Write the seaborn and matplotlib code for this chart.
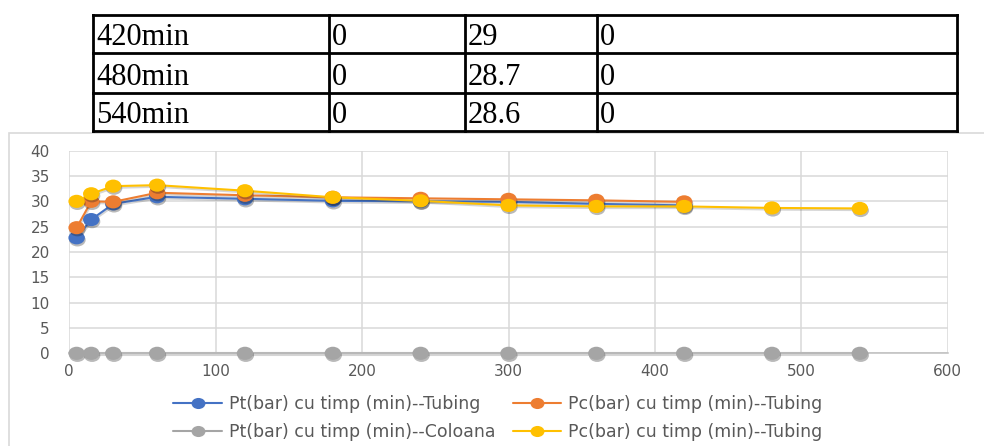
import numpy as np
import pandas as pd
import seaborn as sns
import matplotlib
matplotlib.use("Agg")
import matplotlib.pyplot as plt
from matplotlib.lines import Line2D
from matplotlib.patches import Rectangle
from matplotlib.path import Path
from matplotlib.transforms import Affine2D
import matplotlib.patheffects as pe

# ---- data ----
time_min = [5, 15, 30, 60, 120, 180, 240, 300, 360, 420, 480, 540]
pt_tubing = [22.8, 26.4, 29.5, 30.9, 30.5, 30.1, 30.0, 29.9, 29.5, 29.2]
pc_tubing = [24.8, 30.0, 29.9, 31.7, 31.2, 30.8, 30.6, 30.4, 30.2, 29.9]
pt_coloana = [0, 0, 0, 0, 0, 0, 0, 0, 0, 0, 0, 0]
pc_tubing_b = [30.0, 31.5, 33.0, 33.2, 32.1, 30.8, 30.1, 29.2, 29.0, 29.0, 28.7, 28.6]

table_labels = ["420min", "480min", "540min"]
table_last_col = [0, 0, 0]

series_names = [
    "Pt(bar) cu timp (min)--Tubing",
    "Pc(bar) cu timp (min)--Tubing",
    "Pt(bar) cu timp (min)--Coloana",
    "Pc(bar) cu timp (min)--Tubing",
]
series_values = [pt_tubing, pc_tubing, pt_coloana, pc_tubing_b]
series_colors = ["#4472C4", "#ED7D31", "#A5A5A5", "#FFC000"]

W, H = 984, 446
sns.set_theme(style="white")
plt.rcParams["font.family"] = ["DejaVu Sans"]
fig = plt.figure(figsize=(W / 100, H / 100), dpi=100)


def fx(x):
    return x / W


def fy(y):
    return 1 - y / H


# ---- table above the chart ----
tbl_x = [93, 329, 465, 597, 957]
tbl_y = [15, 53, 93, 131]
for y in tbl_y:
    fig.add_artist(Line2D([fx(tbl_x[0]), fx(tbl_x[-1])], [fy(y), fy(y)],
                          transform=fig.transFigure, color="black", lw=2,
                          solid_capstyle="projecting"))
for x in tbl_x:
    fig.add_artist(Line2D([fx(x), fx(x)], [fy(tbl_y[0]), fy(tbl_y[-1])],
                          transform=fig.transFigure, color="black", lw=2,
                          solid_capstyle="projecting"))

n_tail = len(table_labels)
table_cells = list(zip(
    table_labels,
    [f"{v:g}" for v in pt_coloana[-n_tail:]],
    [f"{v:g}" for v in pc_tubing_b[-n_tail:]],
    [f"{v:g}" for v in table_last_col],
))
for r, row in enumerate(table_cells):
    base = tbl_y[r + 1] - 8
    for c, txt in enumerate(row):
        fig.text(fx(tbl_x[c] + 3), fy(base), txt, ha="left", va="baseline",
                 fontsize=22, family="Liberation Serif", color="black")

# ---- chart area frame ----
fig.add_artist(Rectangle((fx(9), fy(H + 10)), 1.2, fy(133) - fy(H + 10),
                         transform=fig.transFigure, fill=False,
                         edgecolor="#d9d9d9", lw=1.2))

# ---- plot area ----
left, right, top, bottom = 69.3, 947.7, 150.7, 353.3
ax = fig.add_axes([fx(left), fy(bottom), fx(right - left), fy(top) - fy(bottom)])
ax.set_facecolor("none")

ellipse = Path.unit_circle().transformed(Affine2D().scale(1.0, 0.8))

line_fx = [pe.SimpleLineShadow(offset=(0.6, -1.2), alpha=0.18, shadow_color="k"),
           pe.Normal()]
mark_fx = [pe.SimplePatchShadow(offset=(0.6, -1.5), alpha=0.3, shadow_rgbFace="k"),
           pe.Normal()]

for name, vals, col in zip(series_names, series_values, series_colors):
    df = pd.DataFrame({"t": time_min[:len(vals)], "p": vals})
    sns.lineplot(data=df, x="t", y="p", ax=ax, color=col, lw=1.5,
                 clip_on=False, path_effects=line_fx, legend=False)
    sns.scatterplot(data=df, x="t", y="p", ax=ax, color=col, marker=ellipse,
                    s=140, linewidth=0, clip_on=False, zorder=3,
                    path_effects=mark_fx, legend=False)

ax.set_xlim(0, 600)
ax.set_ylim(0, 40)
ax.set_xticks(np.arange(0, 601, 100))
ax.set_yticks(np.arange(0, 41, 5))
ax.grid(True, color="#d9d9d9", lw=1.1)
ax.set_axisbelow(True)
for s in ["left", "right", "top"]:
    ax.spines[s].set_visible(False)
ax.spines["bottom"].set_color("#bfbfbf")
ax.spines["bottom"].set_linewidth(1.1)
ax.tick_params(axis="both", length=0, labelsize=11, labelcolor="#595959")
ax.tick_params(axis="y", pad=14)
ax.tick_params(axis="x", pad=8)
ax.set_xlabel("")
ax.set_ylabel("")

# ---- legend (row-wise: blue, orange / gray, yellow) ----
handles = [Line2D([], [], color=c, lw=1.5, marker=ellipse, markersize=10,
                  markeredgewidth=0) for c in series_colors]
order = [0, 2, 1, 3]
leg = fig.legend([handles[i] for i in order], [series_names[i] for i in order],
                 loc="center", bbox_to_anchor=(fx(498), fy(418)), ncol=2,
                 frameon=False, fontsize=12.5, handlelength=2.8,
                 handletextpad=0.4, columnspacing=1.0, labelspacing=0.6,
                 labelcolor="#595959")

fig.savefig("out.png", dpi=100)
